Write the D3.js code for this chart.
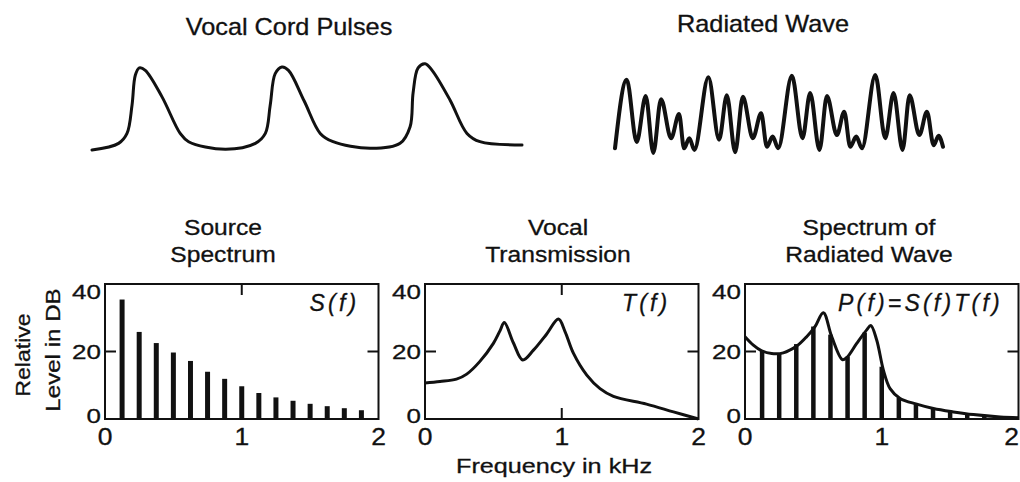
<!DOCTYPE html>
<html>
<head>
<meta charset="utf-8">
<script src="https://cdn.jsdelivr.net/npm/d3@7"></script>
<style>
  html, body { margin: 0; padding: 0; background: #fff; }
  svg { display: block; }
  text { font-family: "Liberation Sans", Arial, Helvetica, sans-serif; fill: #111; stroke: #111; stroke-width: 0.3px; }
</style>
</head>
<body>
<svg id="chart" width="1020" height="482"></svg>
<script>
// ---------------- DATA ----------------
// Vocal cord pulses (time in ms, relative amplitude)
const pulseTimeMs = [0, 1.86, 2.45, 2.80, 3.03, 3.31, 3.73, 4.90, 6.17, 6.76, 9.32, 11.43, 12.13, 12.47, 12.82, 13.29, 13.75, 14.85, 15.97, 16.87, 19.46, 21.56, 22.26, 22.47, 22.82, 23.31, 23.80, 25.06, 26.24, 27.15, 30.09];
const pulseAmp    = [0, 0.08, 0.20, 0.54, 0.90, 0.99, 0.96, 0.64, 0.20, 0.10, 0.01, 0.08, 0.20, 0.54, 0.92, 1.00, 0.96, 0.59, 0.20, 0.10, 0.02, 0.08, 0.28, 0.69, 0.99, 1.04, 0.96, 0.60, 0.20, 0.10, 0.06];

// Radiated wave (time in ms, relative amplitude)
const waveTimeMs = [0, 1.41, 2.61, 3.70, 4.61, 5.54, 6.75, 7.71, 8.31, 8.95, 9.55, 11.24, 12.53, 13.46, 14.46, 15.39, 16.59, 17.59, 18.28, 18.98, 19.64, 21.29, 22.57, 23.49, 24.61, 25.51, 26.71, 27.59, 28.31, 29.04, 29.72, 31.33, 32.53, 33.53, 34.61, 35.46, 36.63, 37.55, 38.35, 38.95, 39.48];
const waveAmp    = [0.06, 0.94, 0.14, 0.73, 0.00, 0.69, 0.19, 0.50, 0.06, 0.19, 0.04, 0.97, 0.17, 0.74, 0.01, 0.72, 0.19, 0.51, 0.08, 0.21, 0.06, 0.99, 0.19, 0.77, 0.04, 0.73, 0.23, 0.53, 0.08, 0.21, 0.06, 1.00, 0.19, 0.77, 0.04, 0.74, 0.23, 0.53, 0.10, 0.22, 0.08];

// Source spectrum S(f): harmonics (kHz) and levels (dB)
const harmonicsKHz   = [0.125, 0.25, 0.375, 0.5, 0.625, 0.75, 0.875, 1.0, 1.125, 1.25, 1.375, 1.5, 1.625, 1.75, 1.875];
const sourceLevelDB  = [35.4, 25.8, 22.5, 19.7, 17.2, 14.0, 11.9, 9.7, 7.7, 6.4, 5.4, 4.5, 3.8, 3.2, 2.6];

// Vocal transmission T(f)
const transFreqKHz  = [0, 0.11, 0.23, 0.305, 0.40, 0.50, 0.549, 0.58, 0.646, 0.715, 0.793, 0.89, 0.976, 1.024, 1.085, 1.183, 1.28, 1.378, 1.62, 1.817, 2.0];
const transLevelDB  = [10.7, 11.1, 11.8, 13.3, 17.0, 22.4, 26.2, 28.6, 22.6, 17.5, 20.4, 25.2, 29.6, 25.9, 19.5, 13.0, 9.0, 6.7, 4.4, 2.1, 0];

// Spectrum of radiated wave P(f) envelope and harmonic levels
const radFreqKHz   = [0, 0.061, 0.122, 0.195, 0.28, 0.378, 0.451, 0.512, 0.573, 0.634, 0.712, 0.744, 0.817, 0.89, 0.92, 0.963, 1.012, 1.061, 1.134, 1.256, 1.378, 1.524, 1.67, 1.866, 2.0];
const radLevelDB   = [24.4, 21.9, 20.2, 19.4, 19.6, 21.6, 24.4, 27.4, 31.5, 24.4, 17.6, 18.2, 22.4, 26.4, 27.7, 23.4, 14.5, 9.0, 6.1, 4.4, 3.1, 2.1, 1.3, 0.6, 0.4];
const radHarmonicDB = [20.2, 19.4, 22.2, 27.4, 25.0, 18.5, 25.6, 15.5, 6.3, 4.4, 3.1, 2.2, 1.5, 1.0, 0.6];

// Tick labels
const levelTicks = [0, 20, 40];
const freqTicks  = [0, 1, 2];

// Titles
const waveTitles  = ["Vocal Cord Pulses", "Radiated Wave"];
const panelTitles = [["Source", "Spectrum"], ["Vocal", "Transmission"], ["Spectrum of", "Radiated Wave"]];
const panelFormulas = ["S(f)", "T(f)", "P(f)=S(f)T(f)"];
const yAxisTitle = ["Relative", "Level in DB"];
const xAxisTitle = "Frequency in kHz";

// ---------------- DRAWING ----------------
const W = 1020;
const svg = d3.select("#chart");

function txt(sel, s, x, y, o) {
  o = o || {};
  const t = sel.append("text")
    .attr("transform", `translate(${x},${y}) rotate(${o.rotate || 0}) scale(${o.sx || 1},1)`)
    .attr("text-anchor", o.anchor || "middle")
    .style("font-size", (o.size || 22) + "px")
    .text(s);
  if (o.italic) t.style("font-style", "italic");
  if (o.ls) t.style("letter-spacing", o.ls + "px");
  return t;
}

// --- top waveforms ---
const px = d3.scaleLinear().domain([0, d3.max(pulseTimeMs)]).range([92, 522]);
const py = d3.scaleLinear().domain([0, 1]).range([150, 67]);
svg.append("path")
  .datum(pulseTimeMs.map((t, i) => [t, pulseAmp[i]]))
  .attr("fill", "none").attr("stroke", "#111").attr("stroke-width", 3)
  .attr("stroke-linejoin", "round").attr("stroke-linecap", "round")
  .attr("d", d3.line().x(d => px(d[0])).y(d => py(d[1])).curve(d3.curveCatmullRom.alpha(0.5)));

const wx = d3.scaleLinear().domain([0, d3.max(waveTimeMs)]).range([615, 943]);
const wy = d3.scaleLinear().domain([0, 1]).range([153, 75]);
svg.append("path")
  .datum(waveTimeMs.map((t, i) => [t, waveAmp[i]]))
  .attr("fill", "none").attr("stroke", "#111").attr("stroke-width", 4)
  .attr("stroke-linejoin", "round").attr("stroke-linecap", "round")
  .attr("d", d3.line().x(d => wx(d[0])).y(d => wy(d[1])).curve(d3.curveMonotoneX));

txt(svg, waveTitles[0], 289, 35, { size: 23, sx: 1.1 });
txt(svg, waveTitles[1], 763, 32, { size: 23, sx: 1.1 });

// --- spectrum panels ---
const panelLeft = [105, 425, 745];
const panelW = 273.5, panelTop = 284, panelH = 135;
const titleCx = [223, 558, 869];
const formulaX = [0.748, 0.72, 0.34];

panelLeft.forEach((left, p) => {
  const x = d3.scaleLinear().domain([0, 2]).range([left, left + panelW]);
  const y = d3.scaleLinear().domain([0, 40]).range([panelTop + panelH, panelTop]);
  const g = svg.append("g");

  // bars
  if (p === 0 || p === 2) {
    const vals = p === 0 ? sourceLevelDB : radHarmonicDB;
    g.selectAll("line.bar").data(harmonicsKHz.map((f, i) => [f, vals[i]])).join("line")
      .attr("class", "bar")
      .attr("x1", d => x(d[0])).attr("x2", d => x(d[0]))
      .attr("y1", y(0)).attr("y2", d => y(d[1]))
      .attr("stroke", "#111").attr("stroke-width", p === 0 ? 5 : 4.5);
  }
  // curves
  if (p === 1 || p === 2) {
    const fx = p === 1 ? transFreqKHz : radFreqKHz;
    const fy = p === 1 ? transLevelDB : radLevelDB;
    g.append("path")
      .datum(fx.map((f, i) => [f, fy[i]]))
      .attr("fill", "none").attr("stroke", "#111").attr("stroke-width", 3)
      .attr("stroke-linejoin", "round")
      .attr("d", d3.line().x(d => x(d[0])).y(d => y(d[1])).curve(d3.curveCatmullRom.alpha(0.5)));
  }

  // frame
  g.append("rect")
    .attr("x", x(0)).attr("y", y(40)).attr("width", x(2) - x(0)).attr("height", y(0) - y(40))
    .attr("fill", "none").attr("stroke", "#111").attr("stroke-width", 2);

  // inward ticks
  const tl = 11;
  g.append("line").attr("x1", x(0)).attr("x2", x(0) + tl).attr("y1", y(20)).attr("y2", y(20)).attr("stroke", "#111").attr("stroke-width", 2);
  g.append("line").attr("x1", x(2)).attr("x2", x(2) - tl).attr("y1", y(20)).attr("y2", y(20)).attr("stroke", "#111").attr("stroke-width", 2);
  if (p !== 2) {
    g.append("line").attr("x1", x(1)).attr("x2", x(1)).attr("y1", y(40)).attr("y2", y(40) + tl).attr("stroke", "#111").attr("stroke-width", 2);
  }
  g.append("line").attr("x1", x(1)).attr("x2", x(1)).attr("y1", y(0)).attr("y2", y(0) - tl).attr("stroke", "#111").attr("stroke-width", 2);

  // y tick labels
  levelTicks.forEach(v => {
    const yy = Math.min(Math.max(y(v), panelTop + 7.5), panelTop + panelH - 3);
    txt(g, String(v), x(0) - 4, yy + 7, { size: 20, sx: 1.3, anchor: "end" });
  });
  // x tick labels (kept inside the page at the right edge)
  freqTicks.forEach(v => {
    const xx = x(v);
    if (xx + 8 > W) txt(g, String(v), W - 1, 445, { size: 23, sx: 1.15, anchor: "end" });
    else txt(g, String(v), xx, 445, { size: 23, sx: 1.15 });
  });

  // titles
  txt(g, panelTitles[p][0], titleCx[p], 235, { size: 22, sx: 1.12 });
  txt(g, panelTitles[p][1], titleCx[p], 262, { size: 22, sx: 1.12 });

  // formula
  txt(g, panelFormulas[p], left + formulaX[p] * panelW, 311, { size: 23, anchor: "start", italic: true, ls: 3.2 });
});

// axis titles
txt(svg, yAxisTitle[0], 30, 355, { size: 21, sx: 1.1, rotate: -90 });
txt(svg, yAxisTitle[1], 60, 350, { size: 21, sx: 1.15, rotate: -90 });
txt(svg, xAxisTitle, 554, 473, { size: 21, sx: 1.2 });
</script>
</body>
</html>
